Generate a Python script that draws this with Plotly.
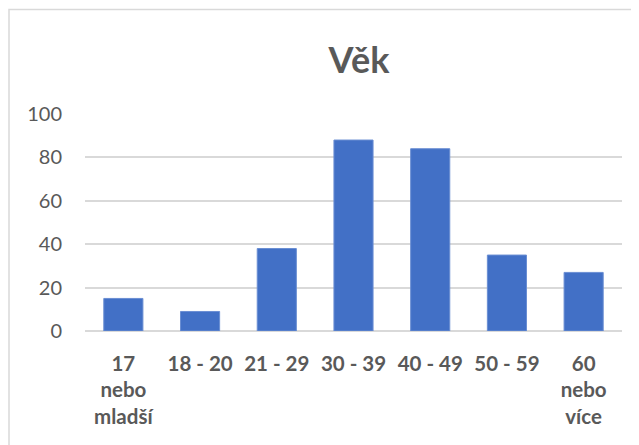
import plotly.graph_objects as go

# age groups and counts
categories = ["17<br>nebo<br>mladší", "18 - 20", "21 - 29", "30 - 39", "40 - 49", "50 - 59", "60<br>nebo<br>více"]
counts = [15, 9, 38, 88, 84, 35, 27]
y_ticks = [0, 20, 40, 60, 80, 100]

# page puts the figure 8px in from the corner, so size/margins are relative to that
OFF = 8
W, H = 639 - OFF, 445 - OFF
L, T = 85 - OFF, 114 - OFF
R = W - (622 - OFF)
B = H - (331 - OFF)
pw = W - L - R
ph = H - T - B

fig = go.Figure()
fig.add_trace(
    go.Bar(
        x=categories,
        y=counts,
        marker=dict(color="#4270C6", line=dict(color="#6A8ED3", width=1)),
        width=0.51,
    )
)

grey = "#595959"
fig.update_layout(
    width=W,
    height=H,
    autosize=False,
    margin=dict(l=L, r=R, t=T, b=B),
    paper_bgcolor="white",
    plot_bgcolor="white",
    showlegend=False,
    font=dict(family="Lato, Open Sans, sans-serif", color=grey),
    title=dict(
        text="<b>Věk</b>",
        x=(359 - OFF) / W,
        xanchor="center",
        y=1 - (60 - OFF) / H,
        yanchor="middle",
        font=dict(size=36, color=grey, family="Lato, sans-serif"),
    ),
    xaxis=dict(
        tickfont=dict(size=20.5, color=grey, family="Lato, sans-serif", weight="bold"),
        showgrid=False,
        showline=False,
        ticklabelstandoff=18,
    ),
    yaxis=dict(
        range=[0, 100],
        tickvals=y_ticks,
        tickfont=dict(size=20, color=grey),
        showgrid=True,
        gridcolor="#D9D9D9",
        gridwidth=1.5,
        zeroline=True,
        zerolinecolor="#D9D9D9",
        zerolinewidth=1.5,
        showline=False,
        ticklabelstandoff=22,
    ),
    shapes=[
        # outer chart border
        dict(
            type="rect",
            xref="paper",
            yref="paper",
            x0=(1 - L) / pw,
            x1=(W + 20 - L) / pw,
            y0=-(B + 20) / ph,
            y1=(H - 1.5 - B) / ph,
            line=dict(color="#D9D9D9", width=1.5),
            fillcolor="rgba(0,0,0,0)",
            layer="below",
        )
    ],
)

fig.write_html("out.html")
